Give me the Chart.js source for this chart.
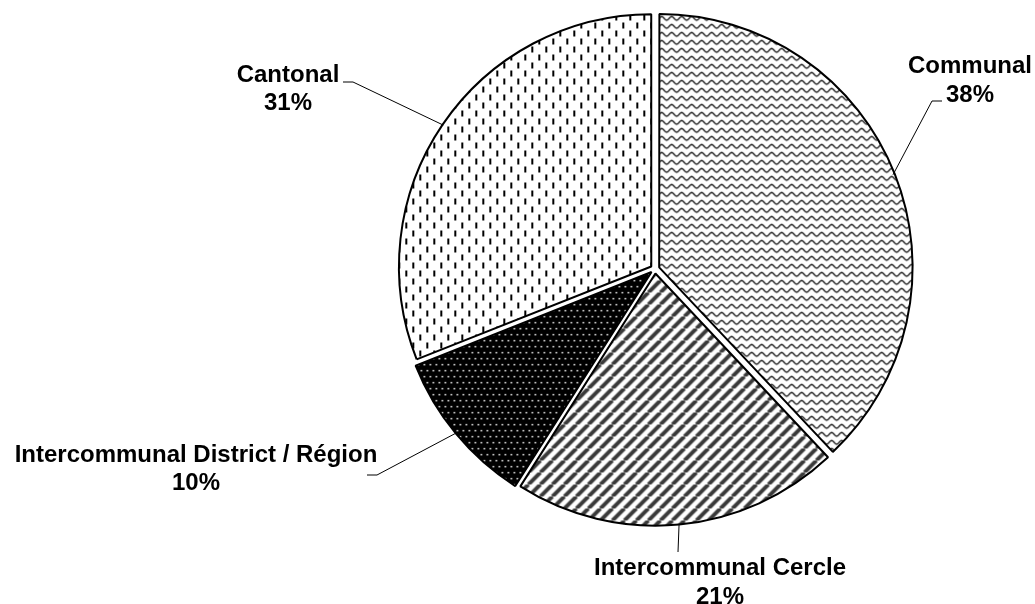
<!DOCTYPE html>
<html lang="fr">
<head>
<meta charset="utf-8">
<title>Répartition par niveau institutionnel</title>
<script src="https://cdn.jsdelivr.net/npm/chart.js@4.4.1/dist/chart.umd.min.js"></script>
<style>
  html, body { margin: 0; padding: 0; background: #fff; }
  #wrap { width: 1035px; height: 604px; position: relative; }
</style>
</head>
<body>
<div id="wrap"><canvas id="pieChart"></canvas></div>
<script>
// Parts par niveau (sens horaire depuis midi)
const categories = ["Communal", "Intercommunal Cercle", "Intercommunal District / Région", "Cantonal"];
const shares = [38, 21, 10, 31];
const shareLabels = ["38%", "21%", "10%", "31%"];

const canvas = document.getElementById("pieChart");
const ctx = canvas.getContext("2d");

// petites tuiles pour les motifs noir/blanc
function makePattern(w, h, draw) {
  const c = document.createElement("canvas");
  c.width = w;
  c.height = h;
  const g = c.getContext("2d");
  g.fillStyle = "#fff";
  g.fillRect(0, 0, w, h);
  draw(g, w, h);
  return ctx.createPattern(c, "repeat");
}

// vagues
const wavePattern = makePattern(10, 8, (g, w, h) => {
  g.strokeStyle = "#000";
  g.lineWidth = 1.2;
  g.beginPath();
  for (let x = -1; x <= w + 1; x += 0.5) {
    const y = 4 + 1.8 * Math.sin((2 * Math.PI * x) / w);
    if (x === -1) g.moveTo(x, y); else g.lineTo(x, y);
  }
  g.stroke();
});

// hachures diagonales
const stripePattern = makePattern(12, 12, (g) => {
  g.strokeStyle = "#3a3a3a";
  g.lineWidth = 4;
  g.beginPath();
  [-12, 0, 12].forEach(k => {
    g.moveTo(k, 12);
    g.lineTo(k + 12, 0);
  });
  g.stroke();
});

// fond noir à points blancs
const dotPattern = makePattern(6, 12, (g, w, h) => {
  g.fillStyle = "#000";
  g.fillRect(0, 0, w, h);
  g.fillStyle = "#fff";
  g.fillRect(1, 1, 1.5, 1.5);
  g.fillRect(4, 7, 1.5, 1.5);
});

// tirets verticaux
const dashPattern = makePattern(14, 16, (g) => {
  g.fillStyle = "#000";
  g.fillRect(3, 1, 2, 6);
  g.fillRect(10, 9, 2, 6);
});

// étiquettes extérieures avec lignes de rappel
const outsideLabels = {
  id: "outsideLabels",
  afterDraw(chart, args, opts) {
    const c = chart.ctx;
    const meta = chart.getDatasetMeta(0);
    c.save();
    c.font = 'bold 24px "Liberation Sans", Arial, sans-serif';
    c.fillStyle = "#000";
    c.strokeStyle = "#000";
    c.lineWidth = 1;
    c.textAlign = "center";
    c.textBaseline = "alphabetic";
    meta.data.forEach((arc, i) => {
      const p = arc.getProps(["x", "y", "startAngle", "endAngle", "outerRadius"], true);
      const mid = (p.startAngle + p.endAngle) / 2;
      const r = p.outerRadius + 4;
      const ax = p.x + Math.cos(mid) * r;
      const ay = p.y + Math.sin(mid) * r;
      const lay = opts.layout[i];
      c.beginPath();
      c.moveTo(ax, ay);
      c.lineTo(lay.elbow[0], lay.elbow[1]);
      if (lay.end) c.lineTo(lay.end[0], lay.end[1]);
      c.stroke();
      c.fillText(categories[i], lay.x, lay.y);
      c.fillText(shareLabels[i], lay.x, lay.y + 28.5);
    });
    c.restore();
  }
};

new Chart(ctx, {
  type: "pie",
  data: {
    labels: categories,
    datasets: [{
      data: shares,
      backgroundColor: [wavePattern, stripePattern, dotPattern, dashPattern],
      borderColor: "#000",
      borderWidth: 2,
      offset: 18,
      hoverOffset: 18,
      radius: 252
    }]
  },
  options: {
    responsive: true,
    maintainAspectRatio: false,
    animation: false,
    events: [],
    layout: {
      padding: { left: 275, right: 0, top: 0, bottom: 66 }
    },
    plugins: {
      legend: { display: false },
      tooltip: { enabled: false },
      outsideLabels: {
        layout: [
          { x: 970, y: 73.3, elbow: [932, 101], end: [942, 101] },
          { x: 720, y: 575, elbow: [678, 552] },
          { x: 196, y: 461.7, elbow: [377, 475], end: [367, 475] },
          { x: 288, y: 81.7, elbow: [353, 82], end: [343, 82] }
        ]
      }
    }
  },
  plugins: [outsideLabels]
});
</script>
</body>
</html>
